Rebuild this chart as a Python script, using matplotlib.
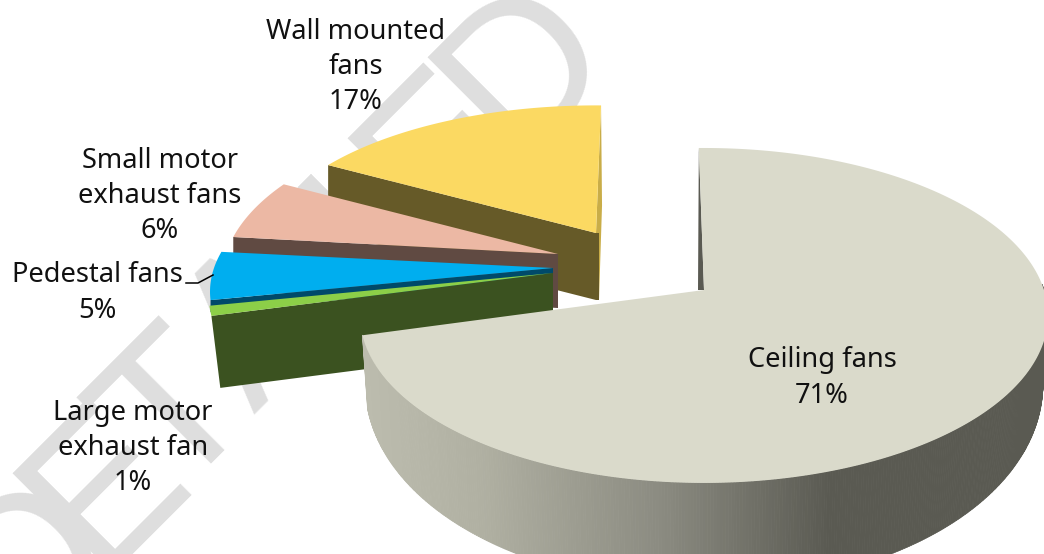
"""Exploded 3D style pie of fan types, with the DETAILED watermark behind it."""

import numpy as np
import matplotlib
matplotlib.use("Agg")
import matplotlib.pyplot as plt
from matplotlib.collections import PolyCollection
from matplotlib.colors import to_rgb

# ── Data ─────────────────────────────────────────────────────────────

labels = ["Ceiling fans", "Large motor\nexhaust fan", "Pedestal fans",
          "Small motor\nexhaust fans", "Wall mounted\nfans"]
shares = [71, 1, 5, 6, 17]

watermark_letters = list("DETAILED")

# ── Style ────────────────────────────────────────────────────────────

START_ANGLE = -1.0
PERSPECTIVE = 0.152

# apex position, radii and extrusion of each slice, same order as labels
GEOM = [
    dict(cx=704, cy=290, a=340, b=163.6, t0=62, t1=42, taper=0.985, turn=0,
         top="#dadacb", side="#5a5a52"),
    dict(cx=553, cy=273, a=340, b=155, t0=72, t1=0, taper=0.974, turn=0,
         top="#8ccf48", side="#3b5220"),
    dict(cx=553, cy=268, a=339, b=152, t0=12, t1=0, taper=1.0, turn=0,
         top="#00aeef", side="#004a6a"),
    dict(cx=558, cy=254, a=332, b=160, t0=54, t1=0, taper=1.0, turn=0,
         top="#ecb8a4", side="#604a42"),
    dict(cx=596, cy=233, a=332, b=147, t0=67, t1=0, taper=1.0, turn=2,
         top="#fbd962", side="#665a28"),
]

LABEL_POS = [(822, 378), (133, 448), (97, 293), (160, 196), (356, 67)]

# centre of each watermark letter along its 45 degree baseline
WATERMARK_S = [-375, -269, -167, -45, 55, 123, 205, 324]
WATERMARK_BASE = 670

RIM_STOPS_X = [363, 480, 660, 830, 1044]
RIM_STOPS_C = ["#bcbcae", "#b0b0a2", "#8b8b81", "#5a5a52", "#5a5a52"]


def project(g, theta):
    """Map clockwise-from-top angles (degrees) onto the tilted pie rim."""
    t = np.radians(theta + g["turn"])
    u, v = np.sin(t), -np.cos(t)
    d = 1 - PERSPECTIVE * v
    return g["cx"] + g["a"] * u / d, g["cy"] + g["b"] * v / d, v


def drop(g, x, y, v):
    """Lower edge of the extrusion below top-surface points."""
    return g["cx"] + (x - g["cx"]) * g["taper"], y + g["t0"] + g["t1"] * v


def rim_colors(xs):
    rgb = np.array([to_rgb(c) for c in RIM_STOPS_C])
    return np.column_stack([np.interp(xs, RIM_STOPS_X, rgb[:, i]) for i in range(3)])


def draw_ceiling(ax, g, start, end):
    theta = np.linspace(max(start, 88), end, 400)
    x, y, v = project(g, theta)
    bx, by = drop(g, x, y, v)
    polys = [[(x[i], y[i]), (x[i + 1], y[i + 1]), (bx[i + 1], by[i + 1]), (bx[i], by[i])]
             for i in range(len(x) - 1)]
    colors = rim_colors((x[:-1] + x[1:]) / 2)
    ax.add_collection(PolyCollection(polys, facecolors=colors, edgecolors=colors,
                                     linewidths=0.6, zorder=5))
    # thin back face left of the first cut
    x0, y0, _ = project(g, np.array([start]))
    ax.fill([x0[0], g["cx"], g["cx"] - 6, x0[0]], [y0[0], g["cy"], g["cy"], y0[0]],
            color=g["side"], lw=0, zorder=5)
    theta = np.linspace(start, end, 400)
    x, y, _ = project(g, theta)
    ax.fill(np.r_[g["cx"], x], np.r_[g["cy"], y], color=g["top"], lw=0, zorder=6)


def draw_slice(ax, g, start, end, zorder):
    theta = np.linspace(start, end, 120)
    x, y, v = project(g, theta)
    bx, by = drop(g, x, y, v)
    # front cut face, then the top surface
    ax.fill([x[0], g["cx"], g["cx"], bx[0]], [y[0], g["cy"], g["cy"] + g["t0"], by[0]],
            color=g["side"], lw=0, zorder=zorder)
    ax.fill(np.r_[g["cx"], x], np.r_[g["cy"], y], color=g["top"], lw=0, zorder=zorder + 0.2)


fig = plt.figure(figsize=(10.44, 5.54), dpi=100)
ax = fig.add_axes([0, 0, 1, 1])
ax.set_xlim(0, 1044)
ax.set_ylim(554, 0)
ax.axis("off")

# ── Watermark ────────────────────────────────────────────────────────

for ch, s in zip(watermark_letters, WATERMARK_S):
    wx = (WATERMARK_BASE + s * np.sqrt(2)) / 2
    wy = (WATERMARK_BASE - s * np.sqrt(2)) / 2
    ax.text(wx, wy, ch, fontsize=148, family="Liberation Sans", color="#dedede",
            rotation=45, rotation_mode="anchor", ha="center", va="baseline", zorder=1)

# ── Slices ───────────────────────────────────────────────────────────

edges = START_ANGLE + np.r_[0, np.cumsum(shares)] * 3.6

for i in range(len(shares) - 1, 0, -1):
    draw_slice(ax, GEOM[i], edges[i], edges[i + 1], 2 + (len(shares) - i) * 0.5)

# gold sliver along the last cut of the wall slice
wall = GEOM[4]
wx, wy, _ = project(wall, np.array([edges[5]]))
ax.fill([wx[0], wx[0] + 1, wall["cx"] + 3, wall["cx"]],
        [wy[0], wy[0] + 100, wall["cy"] + wall["t0"], wall["cy"]],
        color="#c9ad48", lw=0, zorder=2.2)
ax.fill([wall["cx"], wall["cx"] + 3, wall["cx"] + 3, wall["cx"]],
        [wall["cy"], wall["cy"], wall["cy"] + wall["t0"], wall["cy"] + wall["t0"]],
        color=wall["side"], lw=0, zorder=2.3)

draw_ceiling(ax, GEOM[0], edges[0], edges[1])

# ── Labels ───────────────────────────────────────────────────────────

for lab, val, (lx, ly) in zip(labels, shares, LABEL_POS):
    ax.text(lx, ly, f"{lab}\n{val}%", family="Noto Sans", fontsize=19.6, color="#111111",
            ha="center", va="center", linespacing=1.34, zorder=10)

ax.plot([186, 198, 213], [283, 283, 275], color="black", lw=1.1, zorder=9)

fig.savefig("out.png", dpi=100)
